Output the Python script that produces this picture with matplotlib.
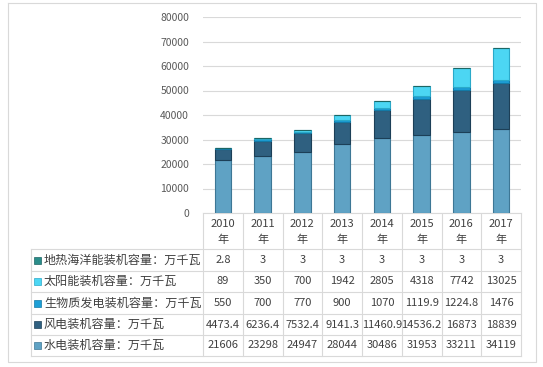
import matplotlib
matplotlib.use("Agg")
import numpy as np
import matplotlib.pyplot as plt

plt.rcParams['font.family'] = ['Noto Sans CJK SC', 'DejaVu Sans']

# data (万千瓦)
years = ["2010", "2011", "2012", "2013", "2014", "2015", "2016", "2017"]
hydro = [21606, 23298, 24947, 28044, 30486, 31953, 33211, 34119]
wind = [4473.4, 6236.4, 7532.4, 9141.3, 11460.9, 14536.2, 16873, 18839]
biomass = [550, 700, 770, 900, 1070, 1119.9, 1224.8, 1476]
solar = [89, 350, 700, 1942, 2805, 4318, 7742, 13025]
geo = [2.8, 3, 3, 3, 3, 3, 3, 3]

series_names = ["水电装机容量：万千瓦", "风电装机容量：万千瓦", "生物质发电装机容量：万千瓦",
                "太阳能装机容量：万千瓦", "地热海洋能装机容量：万千瓦"]
series_vals = [hydro, wind, biomass, solar, geo]
colors = ["#5fa2c4", "#2f6080", "#1d9fd6", "#4cd6f3", "#2a8d8a"]
edges = ["#3d7795", "#1c3f57", "#137aa6", "#2aa9c9", "#1d6664"]

W, H = 543, 367
fig = plt.figure(figsize=(W / 100, H / 100), dpi=100)

# plot area in pixels
x0, x1 = 203, 521
y_top, y_zero = 17, 213
ax = fig.add_axes([x0 / W, 1 - y_zero / H, (x1 - x0) / W, (y_zero - y_top) / H])

x = np.arange(len(years))
bottom = np.zeros(len(years))
for vals, c, e in zip(series_vals, colors, edges):
    ax.bar(x, vals, width=0.41, bottom=bottom, color=c, edgecolor=e, linewidth=0.8, zorder=3)
    bottom += np.array(vals)

ax.set_xlim(-0.5, len(years) - 0.5)
ax.set_ylim(0, 80000)
ax.set_yticks(np.arange(0, 80001, 10000))
ax.tick_params(axis='y', length=0, labelsize=7.5, labelcolor="#595959", pad=10)
ax.set_xticks([])
ax.grid(axis='y', color="#d9d9d9", linewidth=0.8, zorder=0)
for s in ["top", "right", "left"]:
    ax.spines[s].set_visible(False)
ax.spines["bottom"].set_color("#d9d9d9")

# data table drawn in pixel coordinates
tb = fig.add_axes([0, 0, 1, 1], zorder=-1)
tb.set_xlim(0, W)
tb.set_ylim(H, 0)
tb.axis("off")

line_c = "#d9d9d9"
col_w = (x1 - x0) / len(years)
left = 31
row_y = [249, 271, 292, 314, 335, 356]
head_top = 213

# outer border
tb.plot([8, 536, 536, 8, 8], [3, 3, 362, 362, 3], color="#d9d9d9", lw=0.8)

for i in range(len(years) + 1):
    xx = x0 + i * col_w
    tb.plot([xx, xx], [head_top, row_y[-1]], color=line_c, lw=0.8)
tb.plot([left, left], [row_y[0], row_y[-1]], color=line_c, lw=0.8)
for yy in row_y:
    tb.plot([left, x1], [yy, yy], color=line_c, lw=0.8)

for i, yr in enumerate(years):
    tb.text(x0 + (i + 0.5) * col_w, (head_top + row_y[0]) / 2 + 1, yr + "\n年",
            ha="center", va="center", fontsize=8, color="#404040", linespacing=1.6)

# rows go from top (geo) to bottom (hydro)
for r, k in enumerate(range(len(series_vals) - 1, -1, -1)):
    yc = (row_y[r] + row_y[r + 1]) / 2
    tb.add_patch(plt.Rectangle((33.5, yc - 3.5), 7, 7, facecolor=colors[k],
                               edgecolor=edges[k], lw=0.5))
    tb.text(44, yc, series_names[k], ha="left", va="center", fontsize=8.7, color="#404040")
    for i, v in enumerate(series_vals[k]):
        txt = f"{v:g}"
        tb.text(x0 + (i + 0.5) * col_w, yc, txt, ha="center", va="center",
                fontsize=8, color="#404040")

fig.savefig("out.png", dpi=100)
